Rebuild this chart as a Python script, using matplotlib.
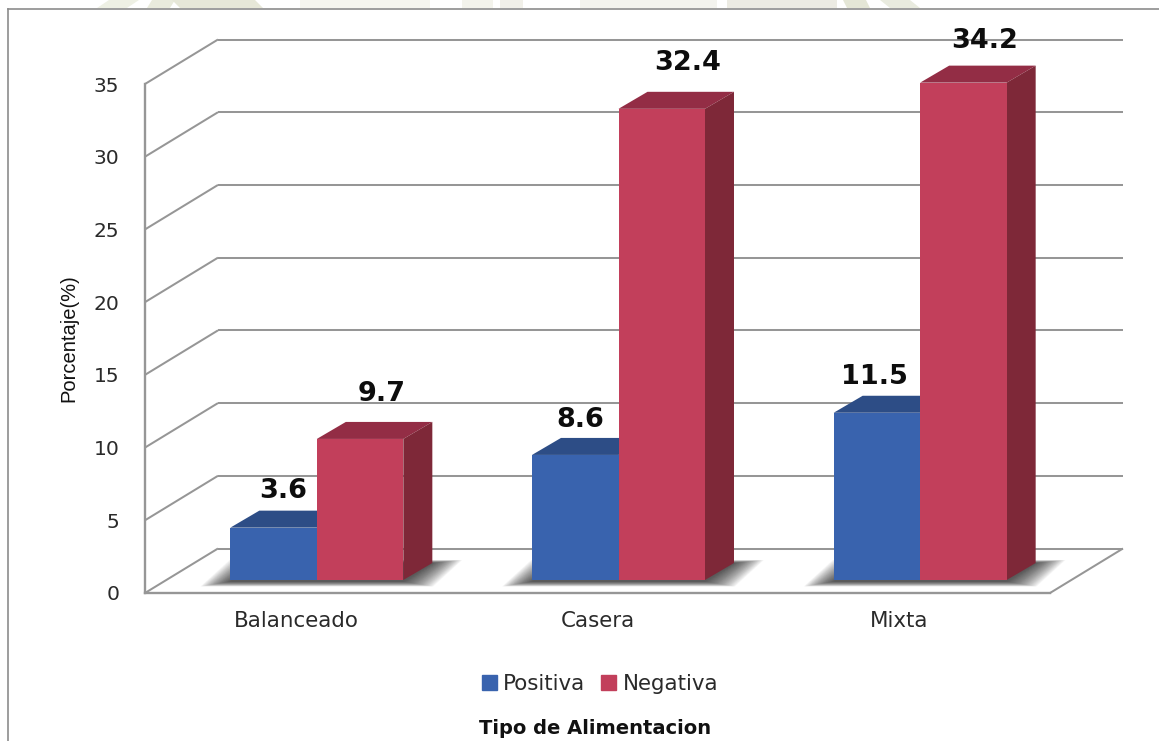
import matplotlib
matplotlib.use("Agg")
import matplotlib.pyplot as plt
from matplotlib.lines import Line2D
from matplotlib.patches import Patch, Polygon

categories = ["Balanceado", "Casera", "Mixta"]
positiva = [3.6, 8.6, 11.5]
negativa = [9.7, 32.4, 34.2]
yticks = [0, 5, 10, 15, 20, 25, 30, 35]

W, H = 1159, 741
LEFT, RIGHT, BASE, TOP = 145, 1050, 593, 84
PX_X = (RIGHT - LEFT) / 3
PX_Y = (BASE - TOP) / 35

GRID = "#969696"
BLUE = ("#3963ae", "#2d4d86", "#28447a")
RED = ("#c23f5b", "#932d45", "#7e2838")

fig = plt.figure(figsize=(W / 100, H / 100), dpi=100, facecolor="white")
ax = fig.add_axes([LEFT / W, 1 - BASE / H, (RIGHT - LEFT) / W, (BASE - TOP) / H])
ax.set_xlim(0, 3)
ax.set_ylim(0, 35)
ax.patch.set_visible(False)


def dx(px):
    return px / PX_X


def dy(px):
    return px / PX_Y


def poly(points, color, z, alpha=None):
    ax.add_patch(Polygon(points, closed=True, facecolor=color, edgecolor="none",
                         alpha=alpha, zorder=z, clip_on=False))


def line(xs, ys, z=1, lw=1.45):
    ax.add_line(Line2D(xs, ys, color=GRID, lw=lw, zorder=z, clip_on=False,
                       solid_capstyle="butt"))


# Chart frame and the pale crest showing above it
for xs, ys in [((8, W), (9, 9)), ((8, 8), (9, H))]:
    fig.add_artist(Line2D([x / W for x in xs], [1 - y / H for y in ys],
                          color="#8c8c8c", lw=1.2))
crest = [(97, 127, 12, "#eef0e4"), (147, 170, 5, "#e9ebdd"), (180, 263, -8, "#e6e7d8"),
         (300, 430, 0, "#f5f5ef"), (462, 493, 0, "#f3f3ec"), (500, 523, 0, "#f1f0e9"),
         (580, 717, 0, "#f3f3ee"), (727, 837, 0, "#ecebe3"), (847, 870, -4, "#e4e6d6"),
         (890, 920, -10, "#e9ebdf")]
for x0, x1, lean, c in crest:
    fig.patches.append(Polygon([(x0 / W, 1 - 8 / H), (x1 / W, 1 - 8 / H),
                                ((x1 + lean) / W, 1), ((x0 + lean) / W, 1)],
                               closed=True, transform=fig.transFigure,
                               facecolor=c, edgecolor="none"))

# Walls and floor of the box
BACK_X, BACK_Y = dx(73), dy(44.5)
for v in yticks:
    line([0, BACK_X], [v, v + BACK_Y])
    line([BACK_X, 3 + BACK_X], [v + BACK_Y, v + BACK_Y])
line([3, 3 + BACK_X], [0, BACK_Y])

# Bars stand a little behind the front edge of the floor
BAR_W = dx(86.5)
SIDE_X, SIDE_Y = dx(29), dy(17)
OFF_X, OFF_Y = dx(21), dy(13)


def draw_shadow(x0, x1):
    """Soft shadow on the floor behind a pair of bars."""
    layers = 40
    shear = dx(29)
    for i in range(layers):
        t = i / (layers - 1)
        low = OFF_Y - dy(1.5 + 5 * (1 - t))
        high = OFF_Y + dy(17 + 3 * (1 - t))
        left = x0 - dx(30) * (1 - t)
        right = x1 + dx(30) * (1 - t)
        poly([(left, low), (right, low),
              (right + shear, high), (left + shear, high)], "#1c1c1c", 2, alpha=0.028)


def draw_bar(x0, value, colors, z):
    x1 = x0 + BAR_W
    y0 = OFF_Y
    y1 = y0 + value
    poly([(x0, y1), (x0 + SIDE_X, y1 + SIDE_Y), (x1 + SIDE_X, y1 + SIDE_Y), (x1, y1)],
         colors[1], z)
    poly([(x1, y0), (x1 + SIDE_X, y0 + SIDE_Y), (x1 + SIDE_X, y1 + SIDE_Y), (x1, y1)],
         colors[2], z)
    poly([(x0, y0), (x1, y0), (x1, y1), (x0, y1)], colors[0], z + 0.5)


LABEL_SHIFT = {  # pixel offset of each value label from the top centre of its bar
    3.6: (10, 37), 9.7: (22, 45), 8.6: (5, 35),
    32.4: (26, 46), 11.5: (-2, 36), 34.2: (21, 42),
}

for i, (pos, neg) in enumerate(zip(positiva, negativa)):
    mid = i + 0.5 + OFF_X
    draw_shadow(mid - BAR_W, mid + BAR_W)
    draw_bar(mid - BAR_W, pos, BLUE, 3)
    draw_bar(mid, neg, RED, 5)
    for x, v in ((mid - BAR_W / 2, pos), (mid + BAR_W / 2, neg)):
        sx, sy = LABEL_SHIFT[v]
        ax.text(x + dx(sx), OFF_Y + v + dy(sy), f"{v}", ha="center", va="center",
                fontsize=19.5, fontweight="bold", color="#0d0d0d", zorder=9, clip_on=False)

# Axes
for side in ("top", "right"):
    ax.spines[side].set_visible(False)
for side in ("left", "bottom"):
    ax.spines[side].set_color(GRID)
    ax.spines[side].set_linewidth(1.7)
ax.set_xticks([i + 0.5 for i in range(len(categories))], categories)
ax.set_yticks(yticks, [str(v) for v in yticks])
ax.tick_params(axis="x", length=0, labelsize=15.4, labelcolor="#2a2a2a", pad=13)
ax.tick_params(axis="y", length=0, labelsize=14.6, labelcolor="#2a2a2a", pad=18.5)

ax.set_ylabel("Porcentaje(%)", fontsize=14.5, color="#111111", stretch="condensed",
              family="Liberation Sans")
ax.yaxis.set_label_coords((78 - LEFT) / (RIGHT - LEFT), (BASE - 338) / (BASE - TOP))
ax.set_xlabel("Tipo de Alimentacion", fontsize=14, fontweight="bold", color="#111111")
ax.xaxis.set_label_coords((595 - LEFT) / (RIGHT - LEFT), (BASE - 729) / (BASE - TOP))
ax.xaxis.label.set_va("center")

ax.legend(handles=[Patch(color=BLUE[0], label="Positiva"), Patch(color=RED[0], label="Negativa")],
          ncol=2, frameon=False, fontsize=15.4, labelcolor="#2a2a2a",
          loc="center", bbox_to_anchor=(600 / W, 1 - 684 / H),
          bbox_transform=fig.transFigure, handlelength=0.7, handleheight=0.7,
          handletextpad=0.3, columnspacing=0.75, borderpad=0)

fig.savefig("out.png", dpi=100)
